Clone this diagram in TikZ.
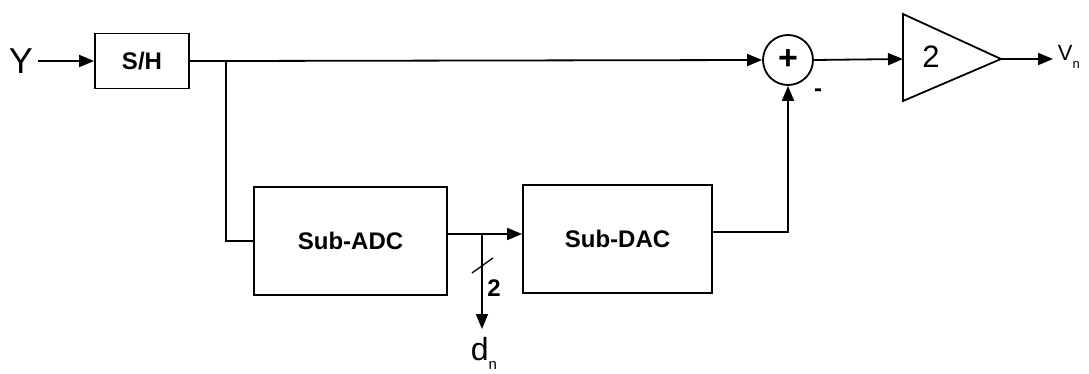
\documentclass[tikz,border=0pt]{standalone}
\usepackage{fontspec}
\setmainfont{Liberation Sans}
\usetikzlibrary{arrows.meta}

\begin{document}
\begin{tikzpicture}[x=1pt,y=-1pt,line width=1.8pt,line cap=butt,line join=miter,
  arr/.style={-{Triangle[length=15pt,width=12pt]}},
  blk/.style={draw,rectangle,inner sep=0pt,font=\bfseries\fontsize{24}{26}\selectfont},
  lbl/.style={inner sep=0pt,font=\fontsize{#1}{#1}\selectfont},
  lbl/.default=20]
\useasboundingbox (0,0) rectangle (1089,374);
\fill[white] (0,0) rectangle (1089,374);

% input and sample-and-hold
\node[lbl=36] (y) at (21,61) {Y};
\node[blk,minimum width=94pt,minimum height=55pt] (sh) at (142,61) {S/H};
\draw[arr] (38,61) coordinate (yout) -- (sh.west);

% summing node and gain stage
\node[draw,circle,minimum size=50pt,inner sep=0pt,
  font=\bfseries\fontsize{34}{34}\selectfont] (sum) at (788,60) {+};
\node[lbl=24,font=\bfseries\fontsize{24}{24}\selectfont] (minus) at (818,93) {-};
\coordinate (ampin) at (903,59);
\coordinate (ampout) at (1001,59);
\draw (ampin) -- (903,14) -- (ampout) -- (903,101) -- cycle;
\node[lbl=31] (gain) at (931,57) {2};
\node[lbl=22,anchor=west] (vn) at (1057,57) {V\raisebox{-8pt}{\fontsize{13}{13}\selectfont n}};

\coordinate (j1) at (226,61);
\draw (sh.east) -- (j1);
\draw[arr] (j1) -- (sum.west);
\draw[arr] (sum.east) -- (ampin);
\draw[arr] (ampout) -- (1053,59);

% coarse converter path
\node[blk,minimum width=193pt,minimum height=108pt] (adc) at (350.5,241) {Sub-ADC};
\node[blk,minimum width=189pt,minimum height=108pt] (dac) at (617.5,239) {Sub-DAC};
\draw (j1) |- (adc.west);
\coordinate (tap) at (482,234);
\draw (adc.east |- tap) -- (tap);
\draw[arr] (tap) -- (dac.west |- tap);
\draw[arr] (dac.east |- 0,232) -| (sum.south);

% digital output
\node[lbl=32,anchor=north] (dn) at (484,336)
  {d\raisebox{-9pt}{\fontsize{15}{15}\selectfont n}};
\draw[arr] (tap) -- (482,329);
\draw[line width=1.3pt] (472,273) -- (493,258);
\node[lbl=24,font=\bfseries\fontsize{24}{24}\selectfont] (bits) at (494,288) {2};

\end{tikzpicture}
\end{document}
